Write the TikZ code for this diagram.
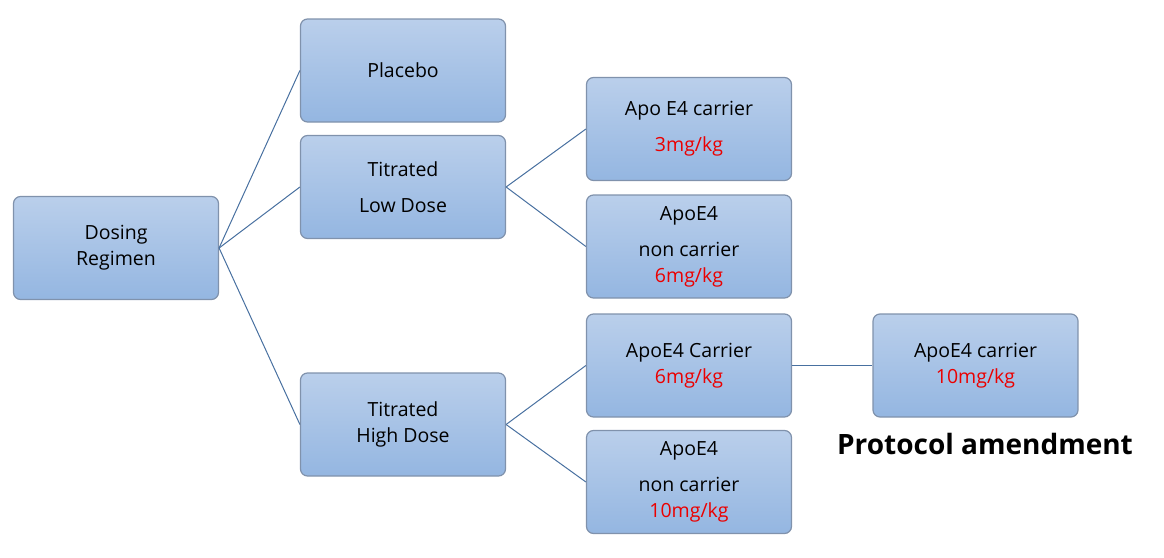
\documentclass[tikz,border=0pt]{standalone}
\usepackage{fontspec}
\setmainfont{Open Sans}
\begin{document}
\begin{tikzpicture}[x=1pt,y=-1pt,
  box/.style={draw={rgb,255:red,128;green,146;blue,172}, line width=1.2pt, rounded corners=7pt,
    top color={rgb,255:red,186;green,207;blue,235}, bottom color={rgb,255:red,148;green,182;blue,225},
    minimum width=205pt, minimum height=103pt, align=center, font=\fontsize{19.5}{26}\selectfont, inner sep=0pt},
  link/.style={draw={rgb,255:red,72;green,112;blue,160}, line width=1pt}]
\useasboundingbox (0,0) rectangle (1164,557);
\node[box] (dr) at (116,248) {Dosing\\Regimen};
\node[box] (pl) at (403,70.5) {Placebo};
\node[box] (tl) at (403,187) {Titrated\\[10pt]Low Dose};
\node[box] (th) at (403,424.5) {Titrated\\High Dose};
\node[box] (c3) at (689,129) {Apo E4 carrier\\[10pt]\textcolor[RGB]{235,0,0}{3mg/kg}};
\node[box] (n6) at (689,246.5) {ApoE4\\[10pt]non carrier\\\textcolor[RGB]{235,0,0}{6mg/kg}};
\node[box] (c6) at (689,365.5) {ApoE4 Carrier\\\textcolor[RGB]{235,0,0}{6mg/kg}};
\node[box] (n10) at (689,482) {ApoE4\\[10pt]non carrier\\\textcolor[RGB]{235,0,0}{10mg/kg}};
\node[box] (c10) at (975.5,365.5) {ApoE4 carrier\\\textcolor[RGB]{235,0,0}{10mg/kg}};
\node[font=\fontsize{28}{30}\selectfont\bfseries, anchor=center] (pa) at (985,444) {Protocol amendment};
\draw[link] (dr.east) -- (pl.west);
\draw[link] (dr.east) -- (tl.west);
\draw[link] (dr.east) -- (th.west);
\draw[link] (tl.east) -- (c3.west);
\draw[link] (tl.east) -- (n6.west);
\draw[link] (th.east) -- (c6.west);
\draw[link] (th.east) -- (n10.west);
\draw[link] (c6.east) -- (c10.west);
\end{tikzpicture}
\end{document}
